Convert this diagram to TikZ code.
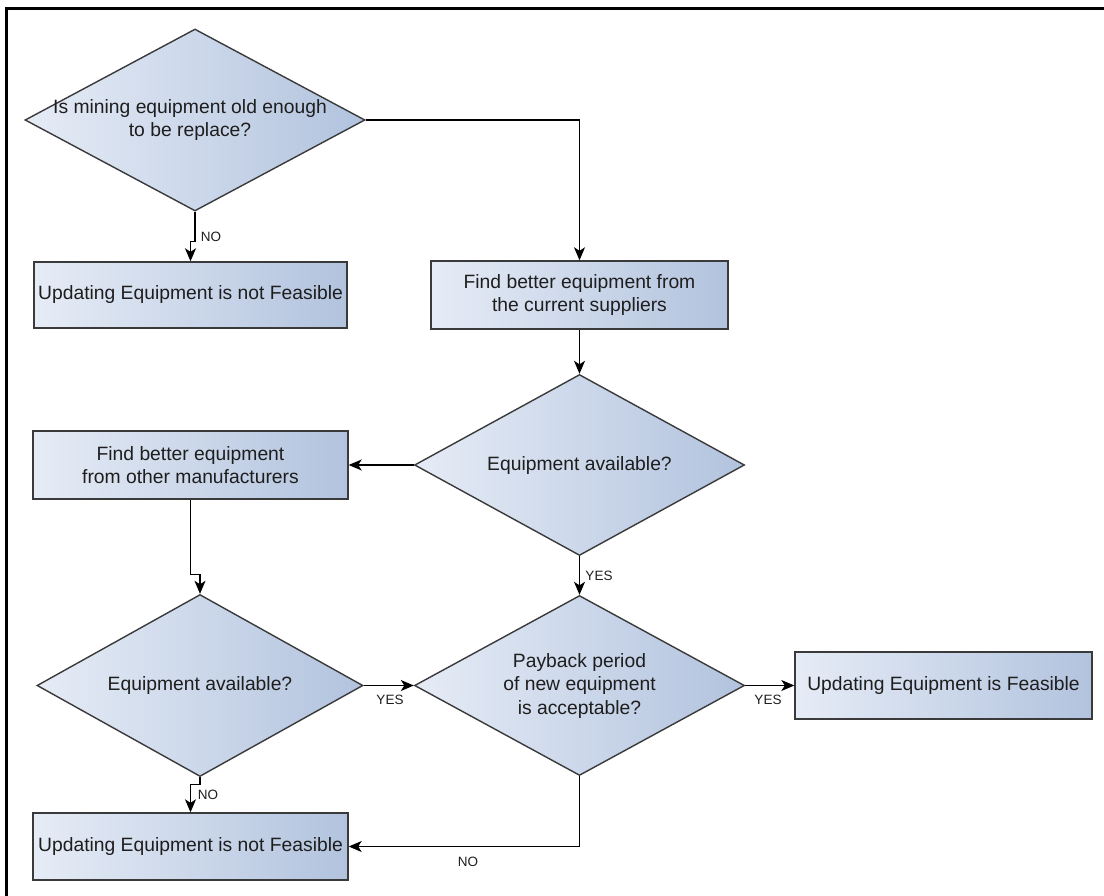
\documentclass[tikz,border=0pt]{standalone}
\usepackage{fontspec}
\setmainfont{Liberation Sans}
\usetikzlibrary{shapes.geometric,arrows.meta}
\definecolor{fillL}{HTML}{E6ECF6}
\definecolor{fillR}{HTML}{B2C3DE}
\definecolor{edge}{HTML}{3A3A3A}
\definecolor{ink}{HTML}{1E1E1E}
\begin{document}
\begin{tikzpicture}[x=1pt,y=-1pt,
  shaded/.style={draw=edge, line width=1.4pt, left color=fillL, right color=fillR},
  procbox/.style={shaded, rectangle, inner sep=0pt, align=center, text=ink,
    font=\fontsize{19.3}{23.5}\selectfont},
  decision/.style={shaded, diamond, inner sep=0pt},
  dtext/.style={align=center, text=ink, inner sep=0pt,
    font=\fontsize{19.3}{23.5}\selectfont},
  flow/.style={draw=black, line width=1.3pt, -{Stealth[length=13pt,width=11pt,inset=3.5pt]}},
  lbl/.style={text=ink, inner sep=0pt, font=\fontsize{13.5}{15}\selectfont}
]
\useasboundingbox (0,0) rectangle (1104,896);
\fill[white] (0,0) rectangle (1104,896);
% frame edges
\draw[line width=2.5pt] (6.5,896) -- (6.5,8.5) -- (1104,8.5);

% decisions
\node[decision, minimum width=340pt, minimum height=182pt] (d1) at (195,120) {};
\node[dtext] (d1t) at (190,120) {Is mining equipment old enough\\to be replace?};
\node[decision, minimum width=330pt, minimum height=181pt] (d2) at (579.5,465) {};
\node[dtext] (d2t) at (579.5,466) {Equipment available?};
\node[decision, minimum width=326pt, minimum height=182pt] (d3) at (200,685.5) {};
\node[dtext] (d3t) at (200,686) {Equipment available?};
\node[decision, minimum width=330pt, minimum height=180pt] (d4) at (579.5,685.5) {};
\node[dtext] (d4t) at (579.5,686) {Payback period\\of new equipment\\is acceptable?};

% process boxes
\node[procbox, minimum width=313pt, minimum height=66pt] (r1) at (190.5,295) {Updating Equipment is not Feasible};
\node[procbox, minimum width=297pt, minimum height=68pt] (r2) at (579.5,295) {Find better equipment from\\the current suppliers};
\node[procbox, minimum width=315pt, minimum height=68pt] (r3) at (190.5,465) {Find better equipment\\from other manufacturers};
\node[procbox, minimum width=297pt, minimum height=67pt] (r4) at (943.5,685.5) {Updating Equipment is Feasible};
\node[procbox, minimum width=315pt, minimum height=67pt] (r5) at (190.5,846.5) {Updating Equipment is not Feasible};

% connectors
\draw[flow] (d1.east) -| (r2.north);
\draw[flow] (d1.south) -- ++(0,30) -| (r1.north);
\draw[flow] (r2.south) -- (d2.north);
\draw[flow] (d2.west) -- (r3.east);
\draw[flow] (d2.south) -- (d4.north);
\draw[flow] (r3.south) -- ++(0,75) -| (d3.north);
\draw[flow] (d3.east) -- (d4.west);
\draw[flow] (d4.east) -- (r4.west);
\draw[flow] (d3.south) -- ++(0,7) -| (r5.north);
\draw[flow] (d4.south) |- (r5.east);

% branch labels
\node[lbl] (l1) at (211,237) {NO};
\node[lbl] (l2) at (599,576) {YES};
\node[lbl] (l3) at (390,700) {YES};
\node[lbl] (l4) at (768,700) {YES};
\node[lbl] (l5) at (208,795) {NO};
\node[lbl] (l6) at (468,862) {NO};
\end{tikzpicture}
\end{document}
